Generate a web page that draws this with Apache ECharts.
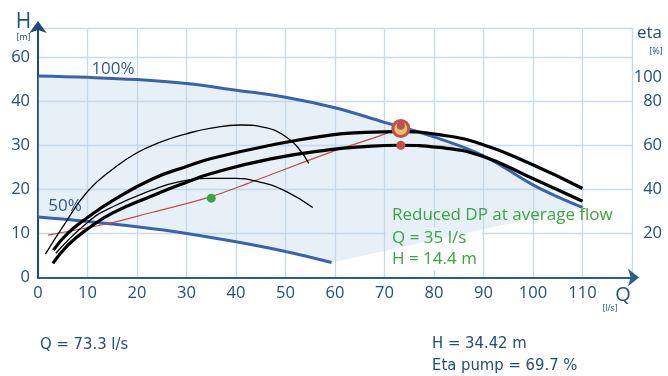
<!DOCTYPE html>
<html>
<head>
<meta charset="utf-8">
<script src="https://cdn.jsdelivr.net/npm/echarts@6/dist/echarts.min.js"></script>
<style>html,body{margin:0;padding:0;background:#fff}#c{width:668px;height:376px}</style>
</head>
<body>
<div id="c"></div>
<script>
// ---- data (Q in l/s, H in m) ----
const qTicks = [0,10,20,30,40,50,60,70,80,90,100,110];
const hTickLabels = ['0','10','20','30','40','60'];      // labels at H = 0,10,...,50
const etaTickLabels = ['', '20','40','60','80'];         // labels at H = 0,10,...,40
const etaTopLabel = '100';
const curve100 = [[0,45.7],[10,45.4],[20,44.9],[30,44.0],[40,42.5],[50,40.9],[60,38.5],[70,35.2],[80,31.9],[90,27.6],[100,21.0],[105,18.3],[110,15.9]];
const curve50 = [[0,13.7],[10,12.7],[20,11.5],[30,10.0],[40,8.1],[50,5.9],[59.3,3.4]];
const systemCurve = [[2,9.6],[14.4,12.3],[23.1,14.8],[34.8,18.3],[43.2,21.7],[59.3,28.5],[70.4,32.7],[73.3,34.42]];
const thinUpper = [[1.5,5.3],[5,11.5],[10,19.5],[15,24.5],[20,28.3],[25,30.8],[30,32.6],[35,33.9],[41,34.6],[46,34.0],[50,32.0],[52.5,29.5],[54.7,25.9]];
const thinLower = [[3.6,5.5],[10,12.5],[15,16],[23,19.8],[28.4,21.7],[35,22.5],[40,22.5],[45,21.6],[50,19.6],[55.5,15.9]];
const thickUpper = [[3.1,6.2],[6,10],[10,13.6],[15,17.4],[23,22.3],[30,25.2],[35,27.0],[47,30.0],[59,32.3],[66,32.9],[73,33.1],[81,32.4],[89.5,30.3],[99.5,25.8],[110,20.2]];
const thickLower = [[3.0,3.2],[6,7.3],[10,11.0],[15,14.6],[23,18.5],[30,21.6],[35,23.6],[47,26.9],[59,29.0],[66,29.7],[73,30.0],[81,29.5],[89.5,27.6],[99.5,22.7],[110,17.3]];
const ringPoint = [[73.3,33.8]];
const dutyPoint = [[73.3,34.42]];
const etaPoint = [[73.3,30.0]];
const reducedPoint = [[35,18.0]];
const fillOutline = curve100.concat(curve50.slice().reverse());

const blue = '#3a63ae';
const navy = '#21507f';
const green = '#3aa640';
const red = '#c0504d';
const font = '"Open Sans", "Noto Sans", sans-serif';
const condFont = '"DejaVu Sans Condensed", "Liberation Sans Narrow", sans-serif';

const chart = echarts.init(document.getElementById('c'), null, {renderer: 'canvas'});
chart.setOption({
  animation: false,
  grid: {left: 38, right: 36, top: 28, bottom: 98.5},
  xAxis: {
    type: 'value', min: 0, max: 120, interval: 10,
    axisLine: {show: true, onZero: false, symbol: ['none','arrow'], symbolSize: [13,11], symbolOffset: [0,7],
      lineStyle: {color: '#2c5b8c', width: 2}},
    axisTick: {show: false},
    splitLine: {show: true, lineStyle: {color: '#c8dbec', width: 1.3}},
    axisLabel: {margin: 7, fontSize: 16.5, fontFamily: font, color: navy,
      formatter: v => qTicks.indexOf(v) >= 0 ? String(v) : ''}
  },
  yAxis: [
    {
      type: 'value', min: 0, max: 56.6, interval: 10, position: 'left',
      axisLine: {show: true, onZero: false, symbol: ['none','arrow'], symbolSize: [13,12], symbolOffset: [0,7],
        lineStyle: {color: '#1f4a7a', width: 2}},
      axisTick: {show: false},
      splitLine: {show: true, lineStyle: {color: '#c8dbec', width: 1.3}},
      axisLabel: {margin: 8, fontSize: 16.5, fontFamily: font, color: navy,
        formatter: v => { const i = Math.round(v/10); return Math.abs(v - i*10) < 1e-6 && hTickLabels[i] !== undefined ? hTickLabels[i] : ''; }}
    },
    {
      type: 'value', min: 0, max: 56.6, interval: 10, position: 'right',
      axisLine: {show: false}, axisTick: {show: false}, splitLine: {show: false},
      axisLabel: {margin: 30, align: 'right', fontSize: 16.5, fontFamily: font, color: navy,
        formatter: v => { const i = Math.round(v/10); return Math.abs(v - i*10) < 1e-6 && etaTickLabels[i] !== undefined ? etaTickLabels[i] : ''; }}
    },
    {
      type: 'value', min: 0, max: 56.6, interval: 45.5, position: 'right',
      axisLine: {show: false}, axisTick: {show: false}, splitLine: {show: false},
      axisLabel: {margin: 30, align: 'right', fontSize: 16.5, fontFamily: font, color: navy,
        formatter: v => Math.abs(v - 45.5) < 1e-6 ? etaTopLabel : ''}
    }
  ],
  series: [
    {
      type: 'custom', silent: true, z: 1, data: [0], clip: true,
      renderItem: (params, api) => ({
        type: 'polygon',
        shape: {points: fillOutline.map(p => api.coord(p))},
        style: {fill: 'rgba(186,208,232,0.33)'}
      })
    },
    {type: 'line', data: curve100, smooth: 0.4, symbol: 'none', lineStyle: {color: blue, width: 3}, z: 3},
    {type: 'line', data: curve50, smooth: 0.4, symbol: 'none', lineStyle: {color: blue, width: 3}, z: 3},
    {type: 'line', data: systemCurve, smooth: 0.4, symbol: 'none', lineStyle: {color: red, width: 1.2}, z: 4},
    {type: 'line', data: thinUpper, smooth: 0.5, symbol: 'none', lineStyle: {color: '#000', width: 1.3}, z: 5},
    {type: 'line', data: thinLower, smooth: 0.5, symbol: 'none', lineStyle: {color: '#000', width: 1.3}, z: 5},
    {type: 'line', data: thickUpper, smooth: 0.5, symbol: 'none', lineStyle: {color: '#000', width: 3.2}, z: 6},
    {type: 'line', data: thickLower, smooth: 0.5, symbol: 'none', lineStyle: {color: '#000', width: 3.2}, z: 6},
    {type: 'scatter', data: ringPoint, symbolSize: 16, itemStyle: {color: '#e6c06c', borderColor: red, borderWidth: 3, opacity: 1}, z: 8},
    {type: 'scatter', data: dutyPoint, symbolSize: 8, itemStyle: {color: red, opacity: 1}, z: 9},
    {type: 'scatter', data: etaPoint, symbolSize: 9, itemStyle: {color: red, opacity: 1}, z: 8},
    {type: 'scatter', data: reducedPoint, symbolSize: 9, itemStyle: {color: green, opacity: 1}, z: 8}
  ],
  graphic: [
    {type: 'rect', z: 0.5, silent: true, shape: {x: 386, y: 227, width: 96, height: 43}, style: {fill: '#fff'}},
    {type: 'text', x: 23.5, y: 22.5, style: {text: 'H', font: '21px ' + font, fill: navy, textAlign: 'center', textVerticalAlign: 'middle'}},
    {type: 'text', x: 23.5, y: 37.5, style: {text: '[m]', font: '9px ' + font, fill: navy, textAlign: 'center', textVerticalAlign: 'middle'}},
    {type: 'text', x: 649.5, y: 33, style: {text: 'eta', font: '17px ' + font, fill: navy, textAlign: 'center', textVerticalAlign: 'middle'}},
    {type: 'text', x: 656, y: 51, style: {text: '[%]', font: '9px ' + font, fill: navy, textAlign: 'center', textVerticalAlign: 'middle'}},
    {type: 'text', x: 623, y: 295, style: {text: 'Q', font: '20px ' + font, fill: navy, textAlign: 'center', textVerticalAlign: 'middle'}},
    {type: 'text', x: 610, y: 309, style: {text: '[l/s]', font: '8.5px ' + font, fill: navy, textAlign: 'center', textVerticalAlign: 'middle'}},
    {type: 'text', x: 113, y: 69.5, z: 10, style: {text: '100%', font: '17px ' + font, fill: '#2d5a95', textAlign: 'center', textVerticalAlign: 'middle'}},
    {type: 'text', x: 65, y: 206, z: 10, style: {text: '50%', font: '17px ' + font, fill: '#2d5a95', textAlign: 'center', textVerticalAlign: 'middle'}},
    {type: 'text', x: 392, y: 215, z: 10, style: {text: 'Reduced DP at average flow', font: '17px ' + font, fill: green, textAlign: 'left', textVerticalAlign: 'middle'}},
    {type: 'text', x: 392, y: 238, z: 10, style: {text: 'Q = 35 l/s', font: '17px ' + font, fill: green, textAlign: 'left', textVerticalAlign: 'middle'}},
    {type: 'text', x: 392, y: 259, z: 10, style: {text: 'H = 14.4 m', font: '17px ' + font, fill: green, textAlign: 'left', textVerticalAlign: 'middle'}},
    {type: 'text', x: 40, y: 345, style: {text: 'Q = 73.3 l/s', font: '16.5px ' + condFont, fill: navy, textAlign: 'left', textVerticalAlign: 'middle'}},
    {type: 'text', x: 432, y: 344, style: {text: 'H = 34.42 m', font: '16.5px ' + condFont, fill: navy, textAlign: 'left', textVerticalAlign: 'middle'}},
    {type: 'text', x: 432, y: 366, style: {text: 'Eta pump = 69.7 %', font: '16.5px ' + condFont, fill: navy, textAlign: 'left', textVerticalAlign: 'middle'}}
  ]
});
</script>
</body>
</html>
